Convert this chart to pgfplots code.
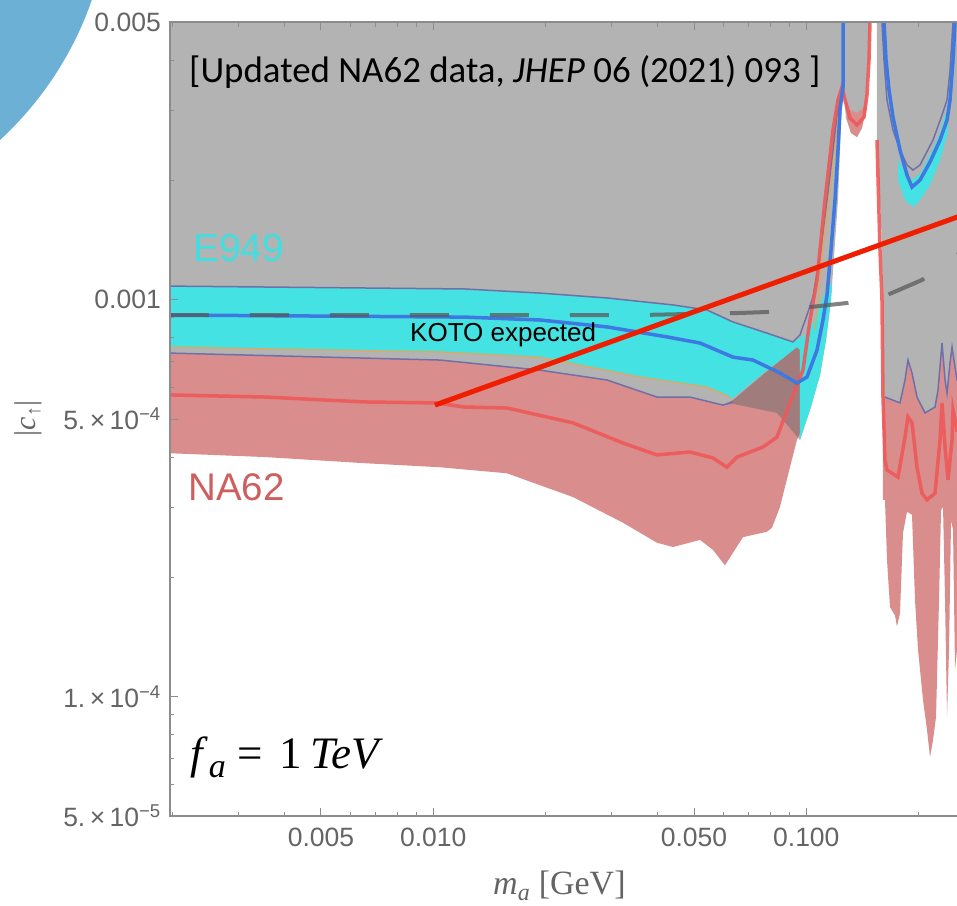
\documentclass[border=0pt]{standalone}
\usepackage{pgfplots}
\pgfplotsset{compat=1.18}
\usepackage{fontspec}
\setmainfont{Liberation Sans}
\newfontfamily\timesf{Liberation Serif}
\newfontfamily\carlito{Carlito}
\definecolor{grayfill}{RGB}{110,110,110}
\definecolor{cyanband}{RGB}{68,226,226}
\definecolor{redband}{RGB}{218,141,141}
\definecolor{blueline}{RGB}{62,120,225}
\definecolor{redline}{RGB}{238,88,88}
\definecolor{purpline}{RGB}{112,112,168}
\definecolor{orangeline}{RGB}{222,170,90}
\definecolor{kotogray}{RGB}{90,90,90}
\definecolor{bigred}{RGB}{240,30,0}
\definecolor{axgray}{RGB}{140,140,140}
\definecolor{labgray}{RGB}{100,100,100}
\definecolor{slideblue}{RGB}{108,176,214}
\definecolor{e949}{RGB}{64,224,224}
\definecolor{na62}{RGB}{205,95,95}

\begin{document}
\begin{tikzpicture}[x=1pt,y=1pt]
\useasboundingbox (0,0) rectangle (957,905);
\clip (0,0) rectangle (957,905);
\fill[slideblue] (-232.9pt,1017.6pt) circle (343.6pt);
\begin{axis}[
  at={(170pt,89pt)}, anchor=south west,
  scale only axis, width=814.3pt, height=794pt,
  xmode=log, ymode=log,
  xmin=0.00197, xmax=0.3, ymin=0.00005, ymax=0.005,
  axis on top,
  axis line style={draw=axgray, line width=1.3pt},
  tick align=inside,
  major tick length=8pt, minor tick length=4.5pt,
  every tick/.style={draw=axgray, line width=1pt},
  xtick={0.005,0.01,0.05,0.1},
  xticklabels={0.005,0.010,0.050,0.100},
  minor xtick={0.002,0.003,0.004,0.006,0.007,0.008,0.009,0.02,0.03,0.04,0.06,0.07,0.08,0.09,0.2,0.3},
  ytick={0.00005,0.0001,0.0005,0.001,0.005},
  yticklabels={5.\,×\,10\textsuperscript{−5},1.\,×\,10\textsuperscript{−4},5.\,×\,10\textsuperscript{−4},0.001,0.005},
  minor ytick={0.00006,0.00007,0.00008,0.00009,0.0002,0.0003,0.0004,0.0006,0.0007,0.0008,0.0009,0.002,0.003,0.004},
  ytick pos=left,
  tick label style={font=\fontsize{26.5}{31}\selectfont, text=labgray},
  xticklabel style={anchor=north, inner sep=0pt, yshift=-12pt},
  yticklabel style={anchor=east, inner sep=0pt, xshift=-9pt},
]
% NA62 band, left part
\addplot[fill=redband, draw=none] coordinates {
(0.00197,0.000733) (0.010422,0.000704) (0.019320,0.000664) (0.029222,0.000627)
(0.039787,0.000568) (0.048780,0.000568) (0.059786,0.000542) (0.063594,0.000558)
(0.077469,0.000653) (0.094393,0.000759) (0.096157,0.000768) (0.096157,0.000461)
(0.094393,0.000443) (0.090400,0.000378) (0.084987,0.000300) (0.080891,0.000266)
(0.078430,0.000260) (0.067641,0.000252) (0.060529,0.000214) (0.056219,0.000234)
(0.051884,0.000248) (0.043921,0.000238) (0.039787,0.000244) (0.032255,0.000274)
(0.023693,0.000318) (0.015764,0.000365) (0.010422,0.000378) (0.006558,0.000387)
(0.003539,0.000401) (0.00197,0.000410)} -- cycle;
% NA62 band, right part
\addplot[fill=redband, draw=none] coordinates {
(0.160536,0.000575) (0.162527,0.000568) (0.178311,0.000549) (0.18391,0.000627)
(0.187345,0.000704) (0.192037,0.000653) (0.198069,0.000568) (0.208092,0.000518)
(0.221341,0.000536) (0.22547,0.000592) (0.231110,0.000777) (0.235428,0.000627)
(0.238351,0.000581) (0.242803,0.000692) (0.245818,0.000759) (0.250409,0.000676)
(0.253519,0.000627) (0.27471,0.000627) (0.27471,0.000131) (0.253519,0.000131)
(0.250409,0.000117) (0.247338,0.000263) (0.24431,0.000278) (0.24131,0.000131)
(0.238351,0.0000888) (0.235428,0.000175) (0.23254,0.000300) (0.22969,0.000295)
(0.22687,0.000175) (0.22271,0.0000888) (0.218626,0.0000777) (0.214617,0.0000704)
(0.21067,0.0000823) (0.20553,0.0000980) (0.199296,0.000131) (0.19563,0.000175)
(0.192037,0.000287) (0.186193,0.000292) (0.181649,0.000258) (0.178311,0.000162)
(0.175036,0.000150) (0.17290,0.000160) (0.167619,0.000168) (0.164543,0.000221)
(0.162527,0.000313) (0.160536,0.000313)} -- cycle;
% excluded region (gray), left
\addplot[fill=grayfill, fill opacity=0.524, draw=none] coordinates {
(0.00197,0.005) (0.148161,0.005) (0.14726,0.004011) (0.14455,0.003181)
(0.14101,0.002704) (0.136736,0.002567) (0.13178,0.002627) (0.127762,0.002865)
(0.125419,0.003429) (0.124648,0.003181) (0.12161,0.001781) (0.11646,0.000997)
(0.112927,0.000791) (0.108822,0.000645) (0.102310,0.000527) (0.096157,0.000443)
(0.083427,0.000518) (0.063594,0.000546) (0.059786,0.000542) (0.048780,0.000568)
(0.039787,0.000568) (0.029222,0.000627) (0.019320,0.000664) (0.010422,0.000704)
(0.00197,0.000733)} -- cycle;
% excluded region (gray), right
\addplot[fill=grayfill, fill opacity=0.524, draw=none] coordinates {
(0.154702,0.005) (0.27471,0.005) (0.27471,0.000627) (0.253519,0.000627)
(0.250409,0.000676) (0.245818,0.000759) (0.242803,0.000692) (0.238351,0.000581)
(0.235428,0.000627) (0.231110,0.000777) (0.22547,0.000592) (0.221341,0.000536)
(0.208092,0.000518) (0.198069,0.000568) (0.192037,0.000653) (0.187345,0.000704)
(0.18391,0.000627) (0.178311,0.000549) (0.162527,0.000568) (0.160536,0.000575)
(0.160536,0.000997) (0.15859,0.001586) (0.155661,0.002246) (0.154702,0.002522)} -- cycle;
% E949 band, left
\addplot[fill=cyanband, draw=none] coordinates {
(0.00197,0.001081) (0.004393,0.001075) (0.012161,0.001063) (0.019320,0.001038)
(0.029222,0.001009) (0.043921,0.000969) (0.054177,0.000941) (0.063594,0.000878)
(0.078430,0.000823) (0.092093,0.000782) (0.099200,0.000814) (0.105515,0.000888)
(0.110173,0.000997) (0.114330,0.001088) (0.117187,0.001088) (0.11646,0.000997)
(0.112927,0.000791) (0.108822,0.000645) (0.102310,0.000527) (0.096157,0.000443)
(0.096157,0.000746) (0.094393,0.000759) (0.077469,0.000657) (0.063594,0.000565)
(0.062426,0.000568) (0.054177,0.000602) (0.035823,0.000638) (0.019320,0.000716)
(0.010422,0.000738) (0.00197,0.000759)} -- cycle;
% E949 band, right
\addplot[fill=cyanband, draw=none] coordinates {
(0.176120,0.002246) (0.18391,0.002095) (0.192037,0.002000) (0.201770,0.002071)
(0.214617,0.002312) (0.228275,0.002627) (0.235428,0.002916) (0.239826,0.003037)
(0.239826,0.002642) (0.228275,0.002246) (0.214617,0.001943) (0.201770,0.001781)
(0.193226,0.001710) (0.18391,0.001781) (0.176120,0.002000)} -- cycle;
% NA62 band near 0.14
\addplot[fill=redband, draw=none] coordinates {
(0.127762,0.003181) (0.130956,0.003002) (0.136736,0.002950) (0.141896,0.003037)
(0.14455,0.003218) (0.14455,0.003002) (0.14101,0.002704) (0.136736,0.002567)
(0.13178,0.002627) (0.12855,0.002833)} -- cycle;
% orange lines
\addplot[orangeline, line width=1.2pt] coordinates {
(0.00197,0.000759) (0.010422,0.000738) (0.019320,0.000716) (0.035823,0.000638)
(0.054177,0.000602) (0.062426,0.000568)};
\addplot[orangeline, line width=1.2pt] coordinates {
(0.105515,0.000838) (0.107487,0.000997) (0.110855,0.001333) (0.11503,0.001781)
(0.119376,0.002380) (0.12236,0.003090) (0.125419,0.003429)};
% purple outlines
\addplot[purpline, line width=1.5pt] coordinates {
(0.00197,0.001081) (0.012161,0.001063) (0.019320,0.001038) (0.029222,0.001009)
(0.043921,0.000969) (0.054177,0.000941) (0.063594,0.000878) (0.078430,0.000823)
(0.092093,0.000782) (0.096157,0.000814) (0.101056,0.000930) (0.104221,0.001015)
(0.108822,0.001294) (0.113626,0.001781) (0.117912,0.002380) (0.120860,0.002916)
(0.12388,0.003274) (0.125419,0.003429) (0.125419,0.005)};
\addplot[purpline, line width=1.5pt] coordinates {
(0.00197,0.000733) (0.010422,0.000704) (0.019320,0.000664) (0.029222,0.000627)
(0.039787,0.000568) (0.048780,0.000568) (0.059786,0.000542) (0.063594,0.000552)};
\addplot[purpline, line width=1.5pt] coordinates {
(0.162527,0.000568) (0.178311,0.000549) (0.18391,0.000627) (0.187345,0.000704)
(0.192037,0.000653) (0.198069,0.000568) (0.208092,0.000518) (0.221341,0.000536)
(0.22547,0.000592) (0.231110,0.000777) (0.235428,0.000627) (0.238351,0.000581)
(0.242803,0.000692) (0.245818,0.000759) (0.250409,0.000676) (0.253519,0.000627)
(0.27471,0.000627)};
\addplot[purpline, line width=1.5pt] coordinates {
(0.159548,0.005) (0.16155,0.004011) (0.164543,0.003181) (0.170756,0.002673)
(0.178311,0.002380) (0.186193,0.002182) (0.193226,0.002119) (0.201770,0.002182)
(0.218626,0.002522) (0.231110,0.002916) (0.238351,0.003181) (0.242803,0.003785)
(0.247338,0.005)};
% NA62 central line
\addplot[redline, line width=3.5pt, opacity=0.9] coordinates {
(0.00197,0.000575) (0.003539,0.000568) (0.006558,0.000552) (0.010106,0.000549)
(0.012161,0.000536) (0.015764,0.000533) (0.023693,0.000489) (0.032255,0.000435)
(0.039787,0.000406) (0.048780,0.000413) (0.056219,0.000399) (0.061281,0.000378)
(0.065183,0.000401) (0.076517,0.000425) (0.083427,0.000450) (0.090400,0.000549)
(0.097954,0.000664) (0.102310,0.000888) (0.106826,0.001120) (0.112231,0.001781)
(0.117912,0.002673) (0.12161,0.003181) (0.124648,0.003429) (0.126975,0.003181)
(0.130956,0.002865) (0.136736,0.002752) (0.142775,0.002882) (0.145443,0.003274)
(0.14726,0.004011) (0.148161,0.005)};
\addplot[redline, line width=3.5pt, opacity=0.9] coordinates {
(0.154702,0.002522) (0.157593,0.001333) (0.159548,0.000997) (0.160536,0.000568)
(0.162527,0.000394) (0.164543,0.000372) (0.167619,0.000368) (0.176120,0.000357)
(0.18391,0.000450) (0.187345,0.000506) (0.192037,0.000489) (0.198069,0.000378)
(0.20427,0.000325) (0.21067,0.000313) (0.221341,0.000325) (0.228275,0.000443)
(0.231110,0.000549) (0.235428,0.000425) (0.239826,0.000351) (0.245818,0.000443)
(0.247338,0.000527) (0.253519,0.000469) (0.27471,0.000469)};
% E949 central line
\addplot[blueline, line width=3.5pt] coordinates {
(0.00197,0.000914) (0.012161,0.000903) (0.019320,0.000888) (0.029222,0.000853)
(0.042315,0.000805) (0.051884,0.000777) (0.063594,0.000716) (0.071949,0.000704)
(0.084987,0.000653) (0.094393,0.000616) (0.100433,0.000638) (0.106826,0.000746)
(0.110855,0.000888) (0.113626,0.001026) (0.11646,0.001333) (0.119376,0.001781)
(0.12161,0.002380) (0.123119,0.003002) (0.125419,0.003429) (0.125419,0.005)};
\addplot[blueline, line width=3.5pt] coordinates {
(0.16155,0.005) (0.16356,0.004011) (0.16662,0.003370) (0.170756,0.002882)
(0.178311,0.002380) (0.186193,0.002059) (0.192037,0.001920) (0.201770,0.002000)
(0.214617,0.002220) (0.228275,0.002522) (0.238351,0.002833) (0.242803,0.003181)
(0.247338,0.004011) (0.250409,0.005)};
% KOTO expected
\addplot[kotogray, line width=4pt, opacity=0.75, dash pattern=on 39pt off 41pt] coordinates {
(0.00197,0.000914) (0.035823,0.000914) (0.066401,0.000925) (0.078430,0.000930)
(0.102310,0.000957) (0.12855,0.000980) (0.164543,0.001026) (0.20427,0.001120)
(0.253519,0.001294) (0.27471,0.001388)};
% straight red guide
\addplot[bigred, line width=5pt] coordinates {(0.010106,0.000542) (0.2697,0.001647)};
\end{axis}
\node[anchor=base west, inner sep=0pt] at (189,822) {\carlito\fontsize{36.9}{40}\selectfont [Updated NA62 data, \textit{JHEP} 06 (2021) 093 ]};
\node[anchor=base west, inner sep=0pt, text=e949] at (193,643) {\fontsize{39}{44}\selectfont E949};
\node[anchor=base west, inner sep=0pt, text=na62] at (188,404) {\fontsize{38.5}{44}\selectfont NA62};
\node[anchor=base west, inner sep=0pt] at (410,563) {\fontsize{26}{30}\selectfont KOTO expected};
\node[anchor=base west, inner sep=0pt] at (190,137) {\timesf\fontsize{45}{50}\selectfont \textit{f}\kern1pt\raisebox{-9pt}{\fontsize{34}{34}\selectfont\textit{a}}\kern12pt=\kern16pt1\kern9pt\textit{TeV}};
\node[anchor=base west, inner sep=0pt, text=labgray] at (493,11) {\timesf\fontsize{34}{38}\selectfont \textit{m}\raisebox{-6pt}{\fontsize{24}{24}\selectfont\textit{a}}\kern9pt[GeV]};
\node[rotate=90, inner sep=0pt, text=labgray] at (28,486.5) {\timesf\fontsize{30}{34}\selectfont |\textit{c}\raisebox{-5pt}{\fontsize{20}{20}\selectfont ↑}|};
\end{tikzpicture}
\end{document}
